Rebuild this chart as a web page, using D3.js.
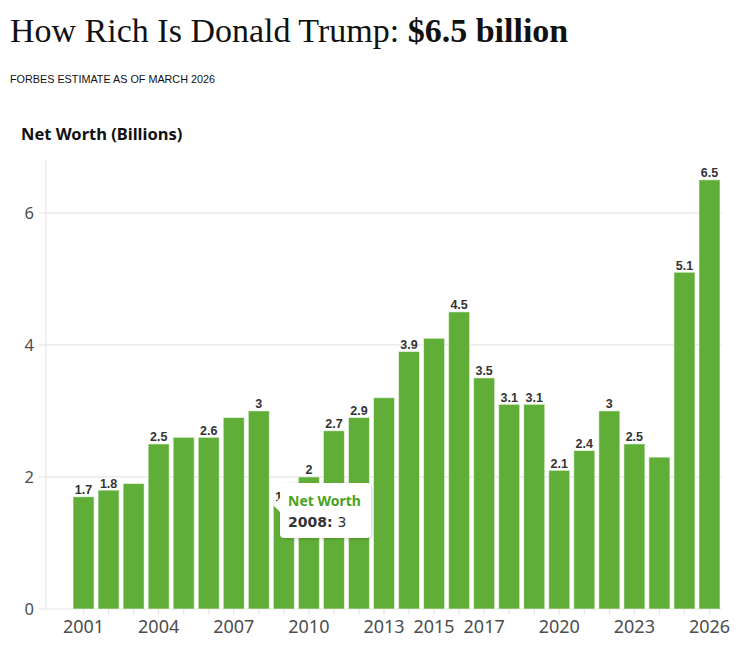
<!DOCTYPE html>
<html>
<head>
<meta charset="utf-8">
<title>How Rich Is Donald Trump</title>
<style>
  body { margin: 0; background: #fff; }
  svg text { font-family: "Noto Sans", sans-serif; }
  .title { font-family: "Liberation Serif", serif; font-size: 34px; fill: #111; }
  .sub { font-family: "Liberation Sans", sans-serif; font-size: 10.8px; fill: #111; }
  .axis-title { font-size: 16.5px; font-weight: bold; fill: #111; }
  .grid line { stroke: #e6e6e6; stroke-width: 1.2px; }
  .xlab { font-size: 18px; fill: #4d4d4d; text-anchor: middle; }
  .ylab { font-size: 16.5px; fill: #4d4d4d; text-anchor: end; }
  .val { font-family: "Liberation Sans", sans-serif; font-size: 12.5px; font-weight: bold; fill: #333; text-anchor: middle; }
  .tip-head { font-size: 14px; font-weight: bold; fill: #47a21c; }
  .tip-line { font-family: "DejaVu Sans", sans-serif; font-size: 14px; fill: #333; }
</style>
</head>
<body>
<svg width="742" height="648"></svg>
<script src="https://cdn.jsdelivr.net/npm/d3@7"></script>
<script>
// data (2009 label is under the tooltip)
var years = [2001, 2002, 2003, 2004, 2005, 2006, 2007, 2008, 2009, 2010, 2011, 2012, 2013,
             2014, 2015, 2016, 2017, 2018, 2019, 2020, 2021, 2022, 2023, 2024, 2025, 2026];
var netWorth = [1.7, 1.8, 1.9, 2.5, 2.6, 2.6, 2.9, 3, 1.6, 2, 2.7, 2.9, 3.2,
                3.9, 4.1, 4.5, 3.5, 3.1, 3.1, 2.1, 2.4, 3, 2.5, 2.3, 5.1, 6.5];
// years whose value label is dropped for overlap
var hiddenLabels = [2003, 2005, 2007, 2013, 2015, 2024];
var xTickLabels = [2001, 2004, 2007, 2010, 2013, 2015, 2017, 2020, 2023, 2026];
var yTicks = [0, 2, 4, 6];
var tooltipYear = 2008;

var svg = d3.select("svg");

// titles
var t = svg.append("text").attr("class", "title").attr("x", 10).attr("y", 42);
t.append("tspan").text("How Rich Is Donald Trump: ");
t.append("tspan").attr("font-weight", "bold").text("$6.5 billion");

svg.append("text").attr("class", "sub").attr("x", 10).attr("y", 82.5)
    .text("FORBES ESTIMATE AS OF MARCH 2026");

svg.append("text").attr("class", "axis-title").attr("x", 21).attr("y", 140)
    .text("Net Worth (Billions)");

// scales
var slots = d3.range(2000, 2027);
var x = d3.scaleBand().domain(slots).range([46, 722]).paddingInner(0.16).paddingOuter(0.08);
var y = d3.scaleLinear().domain([0, 6.8]).range([609, 160]);

var data = years.map(function(d, i) { return { year: d, value: netWorth[i] }; });

// grid
var grid = svg.append("g").attr("class", "grid");
grid.selectAll("line.h")
    .data(yTicks)
    .enter().append("line")
    .attr("x1", 39).attr("x2", 722)
    .attr("y1", function(d) { return y(d); })
    .attr("y2", function(d) { return y(d); });
grid.append("line")
    .attr("x1", 46).attr("x2", 46)
    .attr("y1", y.range()[1]).attr("y2", y(0));

// x ticks at every year
grid.selectAll("line.xt")
    .data(years)
    .enter().append("line")
    .attr("x1", function(d) { return x(d) + x.bandwidth() / 2; })
    .attr("x2", function(d) { return x(d) + x.bandwidth() / 2; })
    .attr("y1", y(0)).attr("y2", y(0) + 6);

svg.selectAll("text.ylab")
    .data(yTicks)
    .enter().append("text")
    .attr("class", "ylab")
    .attr("x", 34)
    .attr("y", function(d) { return y(d); })
    .attr("dy", "0.36em")
    .text(function(d) { return d; });

svg.selectAll("text.xlab")
    .data(xTickLabels)
    .enter().append("text")
    .attr("class", "xlab")
    .attr("x", function(d) { return x(d) + x.bandwidth() / 2; })
    .attr("y", 633)
    .text(function(d) { return d; });

// bars
svg.append("g").selectAll("rect")
    .data(data)
    .enter().append("rect")
    .attr("x", function(d) { return x(d.year); })
    .attr("width", x.bandwidth())
    .attr("y", function(d) { return y(d.value); })
    .attr("height", function(d) { return y(0) - y(d.value); })
    .attr("fill", "#60ae37")
    .attr("stroke", "rgba(255,255,255,0.55)")
    .attr("stroke-width", 1);

svg.append("g").selectAll("text")
    .data(data.filter(function(d) { return hiddenLabels.indexOf(d.year) < 0; }))
    .enter().append("text")
    .attr("class", "val")
    .attr("x", function(d) { return x(d.year) + x.bandwidth() / 2; })
    .attr("y", function(d) { return y(d.value) - 2.5; })
    .text(function(d) { return d.value; });

// tooltip, as frozen in the screenshot
var tipValue = netWorth[years.indexOf(tooltipYear)];
var defs = svg.append("defs");
var f = defs.append("filter").attr("id", "shadow").attr("x", "-20%").attr("y", "-20%")
    .attr("width", "140%").attr("height", "150%");
f.append("feDropShadow").attr("dx", 1).attr("dy", 1).attr("stdDeviation", 1.5)
    .attr("flood-color", "#000").attr("flood-opacity", 0.18);

var tip = svg.append("g").attr("transform", "translate(280,483)");
tip.append("path")
    .attr("d", "M4,0 H87 Q91,0 91,4 V51 Q91,55 87,55 H4 Q0,55 0,51 V29 L-7,22 L0,15 V4 Q0,0 4,0 Z")
    .attr("fill", "#fff")
    .attr("filter", "url(#shadow)");
tip.append("text")
    .attr("class", "tip-head")
    .attr("x", 8).attr("y", 22.5)
    .text("Net Worth");
var tl = tip.append("text").attr("class", "tip-line").attr("x", 8).attr("y", 43.5);
tl.append("tspan").style("font-weight", "bold").text(tooltipYear + ": ");
tl.append("tspan").text(tipValue);
</script>
</body>
</html>
